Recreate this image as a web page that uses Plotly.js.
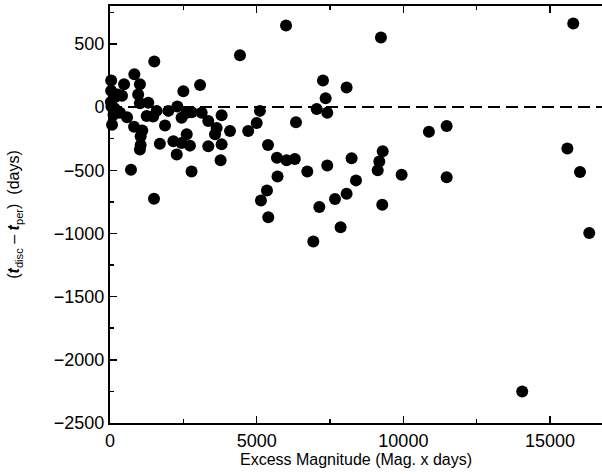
<!DOCTYPE html>
<html>
<head>
<meta charset="utf-8">
<script src="https://cdn.plot.ly/plotly-3.0.1.min.js"></script>
<style>html,body{margin:0;padding:0;background:#fff;}#chart{width:602px;height:474px;}</style>
</head>
<body>
<div id="chart"></div>
<script>
// Excess magnitude (Mag. x days)
const excessMag = [
  40, 40, 170, 410, 480, 50, 190, 120, 340, 580, 70, 30, 270, 150,
  830, 1020, 960, 1020, 820, 1100, 1045, 1045, 1020, 715, 1500, 1510,
  1305, 1590, 1250, 1470, 1875, 1700, 1990, 2295, 2160, 2440, 2615, 2725,
  2275, 2500, 2440, 2615, 2785, 3070, 3125, 3350, 3635, 3580, 3805, 4090,
  3350, 3805, 3770, 2780, 4430, 4710, 5000, 5110, 5385, 5690, 5710, 5350,
  5145, 5395, 6020, 6300, 6340, 6000, 6725, 6930, 7045, 7135, 7260, 7350,
  7405, 7405, 7670, 7860, 8065, 8065, 8235, 8385, 9235, 9295, 9180, 9125,
  9280, 9940, 10870, 11475, 11475, 14050, 15590, 15790, 16020, 16335
];
// t_disc - t_per (days)
const deltaT = [
  210, 130, 80, 90, 180, 5, -25, -60, -45, -80, -140, 40, 100, -10,
  260, 180, 100, 30, -155, -185, -230, -300, -335, -495, -725, 360,
  35, -30, -70, -75, -145, -290, -30, 5, -270, -285, -215, -305,
  -375, 125, -85, -45, -40, 175, -45, -110, -165, -215, -65, -190,
  -310, -295, -420, -510, 410, -190, -125, -30, -300, -400, -550, -660,
  -740, -872, -420, -410, -120, 645, -510, -1063, -15, -790, 210, 70,
  -45, -463, -727, -950, 155, -685, -405, -580, 550, -350, -430, -500,
  -772, -535, -195, -150, -555, -2250, -328, 662, -513, -996
];
const refLineX = [0, 20000];
const refLineY = [0, 0];

const fontFamily = 'Liberation Sans, Arial, sans-serif';
const tickFont = {family: fontFamily, size: 18, color: '#000'};
const titleFont = {family: fontFamily, size: 16, color: '#000'};

const traces = [
  {
    x: refLineX, y: refLineY, mode: 'lines', type: 'scatter',
    line: {color: '#000', width: 2, dash: '12px,6px'},
    hoverinfo: 'skip', showlegend: false
  },
  {
    x: excessMag, y: deltaT, mode: 'markers', type: 'scatter',
    marker: {color: '#000', size: 12, line: {width: 0}},
    showlegend: false, cliponaxis: false
  }
];

const layout = {
  width: 602, height: 474,
  margin: {l: 110, r: 0, t: 6, b: 51},
  paper_bgcolor: '#fff', plot_bgcolor: '#fff',
  font: titleFont,
  showlegend: false,
  xaxis: {
    range: [0, 16770], autorange: false,
    tickvals: [0, 5000, 10000, 15000],
    ticktext: ['0', '5000', '10000', '15000'],
    ticks: 'inside', ticklen: 7, tickwidth: 1.5, tickcolor: '#000',
    minor: {tickvals: [2500, 7500, 12500], ticks: 'inside', ticklen: 4, tickwidth: 1.5, tickcolor: '#000'},
    showline: true, linecolor: '#000', linewidth: 2, mirror: 'ticks',
    showgrid: false, zeroline: false,
    tickfont: tickFont,
    title: {text: 'Excess Magnitude (Mag. x days)', font: titleFont, standoff: 4}
  },
  yaxis: {
    range: [-2500, 800], autorange: false,
    tickvals: [-2500, -2000, -1500, -1000, -500, 0, 500],
    ticks: 'inside', ticklen: 7, tickwidth: 1.5, tickcolor: '#000',
    minor: {tickvals: [-2250, -1750, -1250, -750, -250, 250, 750], ticks: 'inside', ticklen: 4, tickwidth: 1.5, tickcolor: '#000'},
    showline: true, linecolor: '#000', linewidth: 2, mirror: false,
    showgrid: false, zeroline: false,
    tickfont: tickFont,
    title: {text: '(<b><i>t</i></b><sub>disc</sub> – <b><i>t</i></b><sub>per</sub>)  (days)', font: titleFont, standoff: 30}
  }
};

Plotly.newPlot('chart', traces, layout, {staticPlot: true, displayModeBar: false});
</script>
</body>
</html>
